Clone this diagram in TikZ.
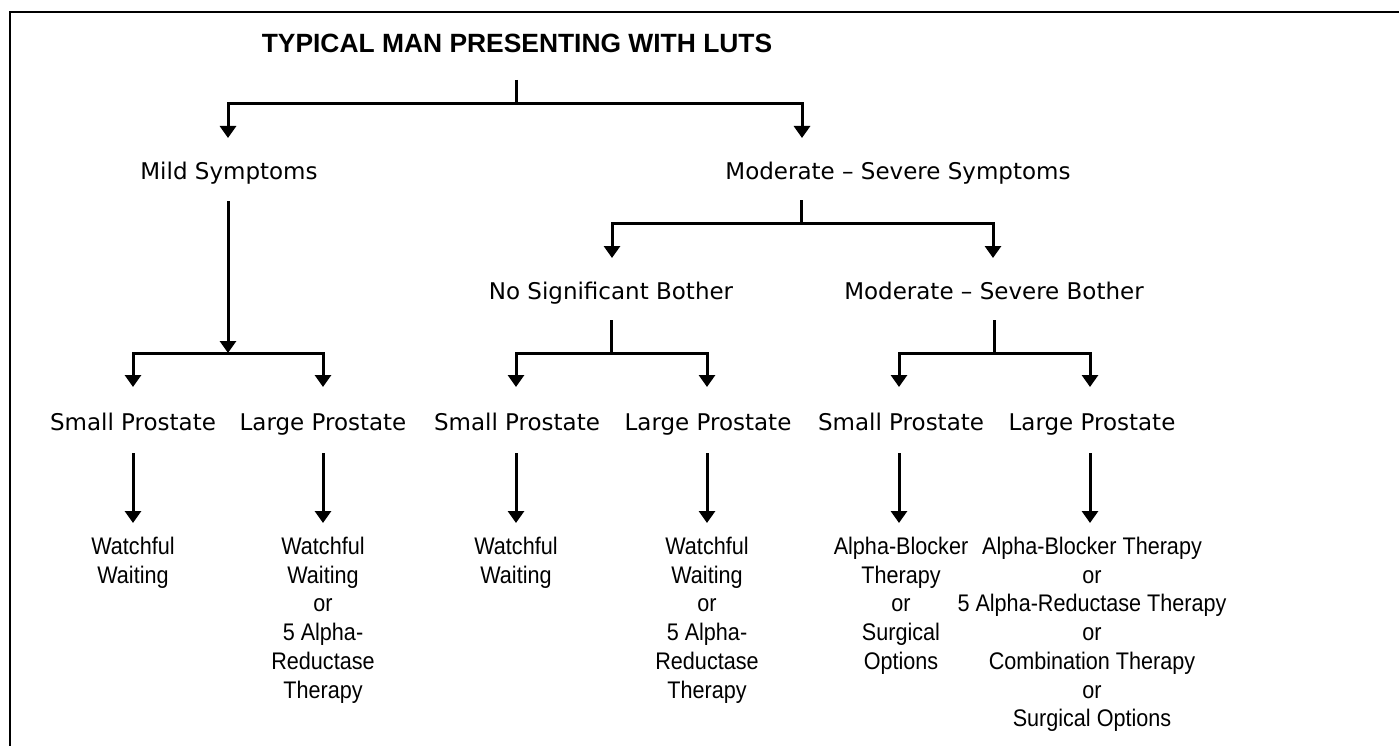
\documentclass[tikz,border=0pt]{standalone}
\usepackage{fontspec}
\setmainfont{Liberation Sans}
\newfontfamily\midfont{DejaVu Sans}
\newfontfamily\condfont[FakeStretch=0.9]{Liberation Sans}
\usetikzlibrary{arrows.meta}
\begin{document}
\begin{tikzpicture}[x=1pt,y=-1pt,
  ln/.style={line width=3pt},
  arr/.style={line width=3pt,-{Triangle[width=16pt,length=12pt]}},
  frame/.style={line width=2pt},
  ttl/.style={font=\fontsize{26.4}{30}\selectfont\bfseries, inner sep=0pt, anchor=base},
  mid/.style={font=\midfont\fontsize{23}{28}\selectfont, inner sep=0pt, anchor=base},
  leaf/.style={font=\condfont\fontsize{24}{28.7}\selectfont, inner sep=0pt, anchor=north, align=center}]
\useasboundingbox (0,0) rectangle (1399,746);
\draw[frame] (10,746) -- (10,12) -- (1399,12);

% nodes
\node[ttl] (title) at (517,53) {TYPICAL MAN PRESENTING WITH LUTS};
\node[mid] (mild) at (229,179) {Mild Symptoms};
\node[mid] (mss) at (898,179) {Moderate – Severe Symptoms};
\node[mid] (nsb) at (611,299) {No Significant Bother};
\node[mid] (msb) at (994,299) {Moderate – Severe Bother};
\node[mid] (sp1) at (133,430) {Small Prostate};
\node[mid] (lp1) at (323,430) {Large Prostate};
\node[mid] (sp2) at (517,430) {Small Prostate};
\node[mid] (lp2) at (708,430) {Large Prostate};
\node[mid] (sp3) at (901,430) {Small Prostate};
\node[mid] (lp3) at (1092,430) {Large Prostate};
\node[leaf] (l1) at (133,537) {Watchful\\Waiting};
\node[leaf] (l2) at (323,537) {Watchful\\Waiting\\or\\5 Alpha-\\Reductase\\Therapy};
\node[leaf] (l3) at (516,537) {Watchful\\Waiting};
\node[leaf] (l4) at (707,537) {Watchful\\Waiting\\or\\5 Alpha-\\Reductase\\Therapy};
\node[leaf] (l5) at (901,537) {Alpha-Blocker\\Therapy\\or\\Surgical\\Options};
\node[leaf] (l6) at (1092,537) {Alpha-Blocker Therapy\\or\\5 Alpha-Reductase Therapy\\or\\Combination Therapy\\or\\Surgical Options};

% junction coordinates
\coordinate (r0) at (516,80);  \coordinate (r1) at (516,104);
\coordinate (tmild) at (228,138); \coordinate (tmss) at (802,138);
\coordinate (m0) at (228,201); \coordinate (m1) at (228,353);
\coordinate (tsp1) at (133,387); \coordinate (tlp1) at (323,387);
\coordinate (s0) at (801,200); \coordinate (s1) at (801,223);
\coordinate (tnsb) at (612,258); \coordinate (tmsb) at (993,258);
\coordinate (n0) at (611,320); \coordinate (n1) at (611,353);
\coordinate (tsp2) at (516,387); \coordinate (tlp2) at (707,387);
\coordinate (b0) at (994,320); \coordinate (b1) at (994,353);
\coordinate (tsp3) at (899,387); \coordinate (tlp3) at (1090,387);

% connectors
\draw[ln] (r0) -- (r1);
\draw[arr] (r1) -| (tmild);
\draw[arr] (r1) -| (tmss);
\draw[arr] (m0) -- (m1);
\draw[arr] (m1) -| (tsp1);
\draw[arr] (m1) -| (tlp1);
\draw[ln] (s0) -- (s1);
\draw[arr] (s1) -| (tnsb);
\draw[arr] (s1) -| (tmsb);
\draw[ln] (n0) -- (n1);
\draw[arr] (n1) -| (tsp2);
\draw[arr] (n1) -| (tlp2);
\draw[ln] (b0) -- (b1);
\draw[arr] (b1) -| (tsp3);
\draw[arr] (b1) -| (tlp3);
\foreach \x/\n in {133/1,323/2,516/3,707/4,899/5,1090/6}{
  \coordinate (d\n a) at (\x,453);
  \coordinate (d\n b) at (\x,523);
  \draw[arr] (d\n a) -- (d\n b);
}
\end{tikzpicture}
\end{document}
